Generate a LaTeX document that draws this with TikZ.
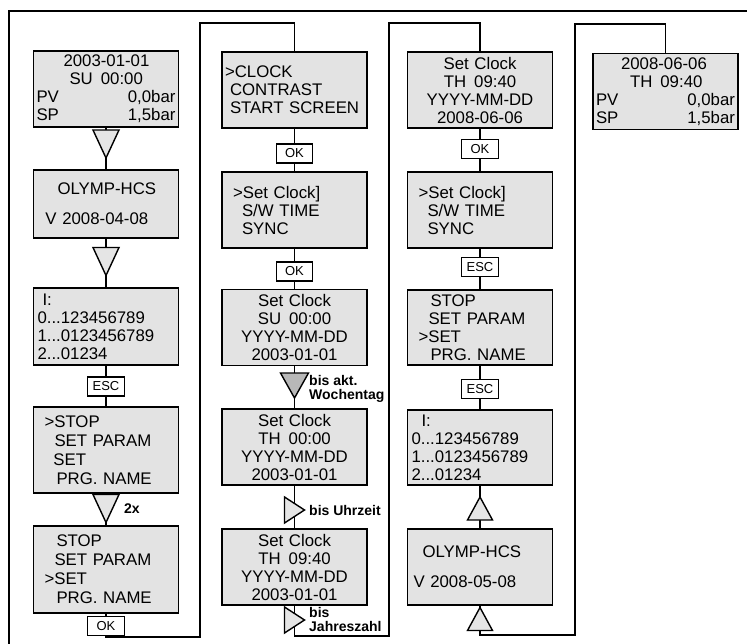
\documentclass[tikz,border=0pt]{standalone}
\usepackage{fontspec}
\setmainfont{Liberation Sans}
\usepackage{tikz}
\usetikzlibrary{positioning}
\definecolor{lcdGray}{gray}{0.89}
\definecolor{triGray}{gray}{0.9}
\definecolor{triDark}{gray}{0.72}
\newcommand{\lcdfont}{\fontsize{16.8}{18}\selectfont}
\newcommand{\lcdtallfont}{\fontsize{16.8}{19}\selectfont}
\newcommand{\btnfont}{\fontsize{13}{14}\selectfont}
\newcommand{\lblfont}{\fontsize{14}{14.5}\selectfont\bfseries}

\begin{document}
\begin{tikzpicture}[x=1pt, y=-1pt,
    lcd/.style={draw, line width=1.8pt, fill=lcdGray, text width=139pt, inner xsep=3pt, inner ysep=0pt, minimum height=76pt, align=left, font=\lcdfont},
    lcdc/.style={lcd, align=center},
    lcdtall/.style={lcd, minimum height=86pt, font=\lcdtallfont},
    btn/.style={draw, line width=1.4pt, fill=white, minimum width=37pt, minimum height=19pt, inner sep=0pt, font=\btnfont},
    conn/.style={line width=1.4pt},
    tri/.style={draw, line width=1.4pt, fill=triGray, line join=miter},
    lbl/.style={font=\lblfont, anchor=west, align=left, inner sep=0pt},
    tridown/.pic={\draw[tri] (-13,-14) -- (13,-14) -- (0,14) -- cycle;},
    tridark/.pic={\draw[tri, fill=triDark] (-14,-12.5) -- (14,-12.5) -- (0,12.5) -- cycle;},
    triright/.pic={\draw[tri] (-10,-13) -- (-10,13) -- (10,0) -- cycle;},
    triup/.pic={\draw[tri] (-12.5,11.5) -- (12.5,11.5) -- (0,-11.5) -- cycle;}]
    \useasboundingbox (0,0) rectangle (747,644);

    % Frame
    \draw[line width=1.4pt] (9,644) -- (9,11) -- (747,11);

    % Column 1
    \node[lcd] (c1a) at (106,89) {\hspace*{27pt}2003-01-01\\\hspace*{33pt}SU\hspace{8pt}00:00\\PV\hfill 0,0bar\\SP\hfill 1,5bar};
    \node[lcd, minimum height=68pt] (c1b) at (106,204) {\hspace*{21pt}OLYMP-HCS\\[12pt]\hspace*{9pt}V 2008-04-08};
    \node[lcd, minimum height=77pt] (c1c) at (106,326.5) {\hspace*{6pt}I:\\\hspace*{1pt}0...123456789\\\hspace*{1pt}1...0123456789\\\hspace*{1pt}2...01234};
    \node[btn] (esc1) at (106,386.5) {ESC};
    \node[lcdtall] (c1d) at (106,450) {\hspace*{8pt}>STOP\\\hspace*{18pt}SET PARAM\\\hspace*{17pt}SET\\\hspace*{20pt}PRG. NAME};
    \node[lcdtall, minimum height=87pt] (c1e) at (106,569.5) {\hspace*{20pt}STOP\\\hspace*{18pt}SET PARAM\\\hspace*{8pt}>SET\\\hspace*{20pt}PRG. NAME};
    \node[btn] (ok1) at (106,626) {OK};
    \node[lbl] (twice) at (124,509) {2x};

    % Column 2
    \node[lcd] (c2a) at (294.5,90) {>CLOCK\\\hspace*{5pt}CONTRAST\\\hspace*{5pt}START SCREEN};
    \node[btn, minimum width=36pt] (ok2) at (294.5,153.5) {OK};
    \node[lcd] (c2b) at (294.5,210) {\hspace*{8pt}>Set Clock]\\\hspace*{17pt}S/W TIME\\\hspace*{17pt}SYNC};
    \node[btn, minimum width=36pt] (ok3) at (294.5,271.5) {OK};
    \node[lcdc] (c2c) at (294.5,327.5) {Set Clock\\SU\hspace{8pt}00:00\\YYYY-MM-DD\\2003-01-01};
    \node[lcdc] (c2d) at (294.5,447) {Set Clock\\TH\hspace{8pt}00:00\\YYYY-MM-DD\\2003-01-01};
    \node[lcdc] (c2e) at (294.5,567) {Set Clock\\TH\hspace{8pt}09:40\\YYYY-MM-DD\\2003-01-01};
    \node[lbl] (weekday) at (309,389) {bis akt.\\Wochentag};
    \node[lbl] (hour) at (309,510) {bis Uhrzeit};
    \node[lbl] (year) at (309,619.5) {bis\\Jahreszahl};

    % Column 3
    \node[lcdc] (c3a) at (480,90) {Set Clock\\TH\hspace{8pt}09:40\\YYYY-MM-DD\\2008-06-06};
    \node[btn] (ok4) at (480,149) {OK};
    \node[lcd] (c3b) at (480,210) {\hspace*{8pt}>Set Clock]\\\hspace*{17pt}S/W TIME\\\hspace*{17pt}SYNC};
    \node[btn] (esc2) at (480,267) {ESC};
    \node[lcd, minimum height=75pt] (c3c) at (480,327.5) {\hspace*{20pt}STOP\\\hspace*{18pt}SET PARAM\\\hspace*{8pt}>SET\\\hspace*{20pt}PRG. NAME};
    \node[btn] (esc3) at (480,389) {ESC};
    \node[lcd, minimum height=75pt] (c3d) at (480,447.5) {\hspace*{11pt}I:\\\hspace*{1pt}0...123456789\\\hspace*{1pt}1...0123456789\\\hspace*{1pt}2...01234};
    \node[lcd] (c3e) at (480,567) {\hspace*{12pt}OLYMP-HCS\\[12pt]\hspace*{3pt}V 2008-05-08};

    % Result
    \node[lcd] (fin) at (665.5,91.5) {\hspace*{25pt}2008-06-06\\\hspace*{34pt}TH\hspace{8pt}09:40\\PV\hfill 0,0bar\\SP\hfill 1,5bar};

    % Turns between columns
    \coordinate (lp1) at (200,637);
    \coordinate (tp1) at (200,23);
    \coordinate (lp2) at (389,636);
    \coordinate (tp2) at (389,23);
    \coordinate (lp3) at (575,635);
    \coordinate (tp3) at (575,24);

    % Connectors
    \draw[conn] (c1a) -- (c1b);
    \draw[conn] (c1b) -- (c1c);
    \draw[conn] (c1c) -- (esc1) -- (c1d);
    \draw[conn] (c1d) -- (c1e) -- (ok1);
    \draw[conn] (ok1.south) |- (lp1) -- (tp1) -| (c2a.north);
    \draw[conn] (c2a) -- (ok2) -- (c2b) -- (ok3) -- (c2c);
    \draw[conn] (c2c) -- (c2d) -- (c2e);
    \draw[conn] (c2e.south) |- (lp2) -- (tp2) -| (c3a.north);
    \draw[conn] (c3a) -- (ok4) -- (c3b) -- (esc2) -- (c3c);
    \draw[conn] (c3c) -- (esc3) -- (c3d) -- (c3e);
    \draw[conn] (c3e.south) |- (lp3) -- (tp3) -| (fin.north);

    % Arrows
    \pic at (106,144) {tridown};
    \pic at (106,261.5) {tridown};
    \pic at (106,508.5) {tridown};
    \pic at (294.5,385.5) {tridark};
    \pic at (294.5,510) {triright};
    \pic at (294.5,620) {triright};
    \pic at (480,508.5) {triup};
    \pic at (480,619) {triup};
\end{tikzpicture}
\end{document}
